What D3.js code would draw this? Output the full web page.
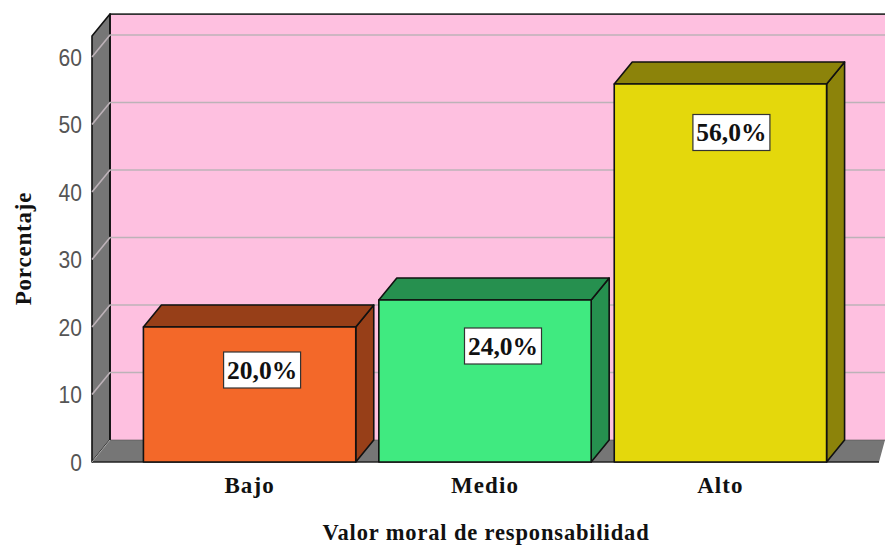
<!DOCTYPE html>
<html><head><meta charset="utf-8">
<script src="https://cdn.jsdelivr.net/npm/d3@7"></script>
<style>html,body{margin:0;padding:0;background:#fff}svg{display:block}</style>
</head><body><svg id="c" width="885" height="545"></svg>
<script>
const categories=["Bajo","Medio","Alto"];
const values=[20,24,56];
const valueLabels=["20,0%","24,0%","56,0%"];
const frontColors=["#f36829","#40ea80","#e4d80c"];
const sideColors=["#973f18","#26904f","#8c830a"];
const yTicks=[0,10,20,30,40,50,60];
const xTitle="Valor moral de responsabilidad";
const yTitle="Porcentaje";

const svg=d3.select("#c");
const dx=18,dy=22;
const y=d3.scaleLinear().domain([0,60]).range([462,57]);
const x=d3.scaleBand().domain(categories).range([132,838]).paddingInner(0.098).paddingOuter(0.0485);
const left=92,topV=63.2;
const poly=(pts,fill,stroke="#111",sw=1.6)=>svg.append("path")
  .attr("d",d3.line()(pts)+"Z").attr("fill",fill).attr("stroke",stroke).attr("stroke-width",sw).attr("stroke-linejoin","round");

svg.append("rect").attr("x",left+dx).attr("y",y(topV)-dy+.7).attr("width",885-left-dx+2).attr("height",y(0)-y(topV))
  .attr("fill","#fec0e0");
svg.append("line").attr("x1",left+dx).attr("x2",885).attr("y1",y(topV)-dy+.7).attr("y2",y(topV)-dy+.7).attr("stroke","#333").attr("stroke-width",1.6);
poly([[left,y(0)],[left+dx,y(0)-dy],[left+dx,y(topV)-dy+.7],[left,y(topV)+.7]],"#767676");
poly([[left,y(0)],[left+dx,y(0)-dy],[885,y(0)-dy],[879,y(0)]],"#767676","none",0);
svg.append("line").attr("x1",left).attr("x2",879).attr("y1",y(0)).attr("y2",y(0)).attr("stroke","#222").attr("stroke-width",1.6);
svg.append("line").attr("x1",left+dx).attr("x2",885).attr("y1",y(0)-dy).attr("y2",y(0)-dy).attr("stroke","#555").attr("stroke-width",.6);
svg.append("line").attr("x1",left+dx).attr("x2",left+dx).attr("y1",y(topV)-dy).attr("y2",y(0)-dy).attr("stroke","#111").attr("stroke-width",1.6);
svg.append("line").attr("x1",left).attr("x2",left+dx).attr("y1",y(0)).attr("y2",y(0)-dy).attr("stroke","#aaa").attr("stroke-width",1);
yTicks.filter(t=>t>0).forEach(t=>{
  svg.append("path").attr("d",d3.line()([[left,y(t)],[left+dx,y(t)-dy],[885,y(t)-dy]]))
    .attr("fill","none").attr("stroke","#bdb2b8").attr("stroke-width",1.6);
});
categories.forEach((c,i)=>{
  const x0=x(c),x1=x0+x.bandwidth(),yt=y(values[i]),yb=y(0);
  poly([[x1,yb],[x1+dx,yb-dy],[x1+dx,yt-dy],[x1,yt]],sideColors[i]);
  poly([[x0,yt],[x0+dx,yt-dy],[x1+dx,yt-dy],[x1,yt]],sideColors[i]);
  poly([[x0,yb],[x0,yt],[x1,yt],[x1,yb]],frontColors[i]);
});
const labelDx=[12.5,18,11];
const labelDy=[43,46,48.5];
categories.forEach((c,i)=>{
  const cx=x(c)+x.bandwidth()/2+labelDx[i], cy=y(values[i])+labelDy[i];
  svg.append("rect").attr("x",cx-38.5).attr("y",cy-18).attr("width",77).attr("height",36)
    .attr("fill","#fff").attr("stroke","#333").attr("stroke-width",1.2);
  svg.append("text").attr("x",cx).attr("y",cy+8.5).attr("text-anchor","middle")
    .attr("font-family","Liberation Serif").attr("font-weight","bold").attr("font-size",25.5).attr("fill","#111").text(valueLabels[i]);
});
const ya=svg.append("g").attr("transform",`translate(${left},0)`)
  .call(d3.axisLeft(y).tickValues(yTicks).tickSize(0).tickPadding(10));
ya.select(".domain").remove();
ya.selectAll("text").attr("font-family","Liberation Sans").attr("font-size",23).attr("dy","0.36em").attr("fill","#555")
  .attr("textLength",d=>String(d).length*11.7).attr("lengthAdjust","spacingAndGlyphs");
const xa=svg.append("g").attr("transform",`translate(0,${y(0)})`)
  .call(d3.axisBottom(x).tickSize(0).tickPadding(15));
xa.select(".domain").remove();
xa.selectAll("text").attr("font-family","Liberation Serif").attr("font-weight","bold").attr("font-size",23).attr("letter-spacing",1.1).attr("fill","#111");
svg.append("text").attr("x",486).attr("y",540).attr("text-anchor","middle")
  .attr("font-family","Liberation Serif").attr("font-weight","bold").attr("font-size",22.5).attr("letter-spacing",0.85).attr("fill","#111").text(xTitle);
svg.append("text").attr("transform","translate(31,248.5) rotate(-90)").attr("text-anchor","middle")
  .attr("font-family","Liberation Serif").attr("font-weight","bold").attr("font-size",23).attr("letter-spacing",0.8).attr("fill","#111").text(yTitle);
</script></body></html>
